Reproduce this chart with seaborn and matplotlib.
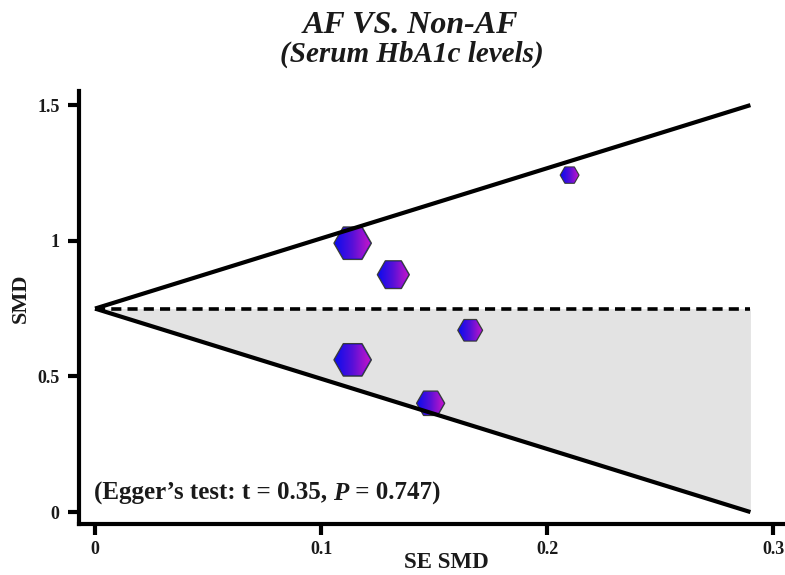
import numpy as np
import pandas as pd
import matplotlib
matplotlib.use("Agg")
import matplotlib.pyplot as plt
import matplotlib.transforms as mtransforms
import seaborn as sns
from matplotlib.patches import RegularPolygon
from matplotlib.colors import LinearSegmentedColormap
from matplotlib.offsetbox import TextArea, HPacker, AnchoredOffsetbox

# ------------------------ data ------------------------
se_smd = [0.210, 0.114, 0.132, 0.166, 0.114, 0.1485]
smd = [1.242, 0.991, 0.875, 0.670, 0.561, 0.401]

pooled_smd = 0.75
se_max = 0.29
funnel_upper = 1.50
funnel_lower = 0.0

egger_t = 0.35
egger_p = 0.747

title = "AF VS. Non-AF"
subtitle = "(Serum HbA1c levels)"

# ------------------------ style ------------------------
sns.set_style("ticks")
plt.rcParams["font.family"] = ["Liberation Serif", "DejaVu Serif"]
plt.rcParams["font.weight"] = "bold"
ink = "#1a1a1a"

fig = plt.figure(figsize=(7.85, 5.75), dpi=100)
ax = fig.add_axes([79 / 785, 51 / 575, 706 / 785, 433 / 575])

# funnel: shaded lower half, solid limits, dashed pooled estimate
ax.fill_between([0, se_max], [pooled_smd, pooled_smd], [pooled_smd, funnel_lower],
                color="#e3e3e3", lw=0, zorder=1)
ax.plot([0, se_max], [pooled_smd, funnel_upper], color="black", lw=3, zorder=5,
        solid_capstyle="butt")
ax.plot([0, se_max], [pooled_smd, funnel_lower], color="black", lw=3, zorder=5,
        solid_capstyle="butt")
ax.plot([0, se_max], [pooled_smd, pooled_smd], color="black", lw=2.6, zorder=5,
        ls=(0, (2.8, 1.7)))

# study points, area proportional to inverse variance
df = pd.DataFrame({"se": se_smd, "smd": smd})
df["w"] = 1 / df["se"] ** 2
sns.scatterplot(data=df, x="se", y="smd", size="w", sizes=(180, 725), marker="H",
                color="#1208e6", edgecolor="#3c3c3c", linewidth=1.0,
                legend=False, ax=ax, zorder=3)
pts = ax.collections[-1]
pts.set_edgecolor("#3c3c3c")

# blue -> magenta horizontal gradient inside each hexagon
cmap = LinearSegmentedColormap.from_list("hexfill", ["#0c0ced", "#5a10d8", "#c816c8"])
grad = np.linspace(0, 1, 128).reshape(1, -1)
for (x, y), s in zip(pts.get_offsets(), pts.get_sizes()):
    r = np.sqrt(s) / 2 / 72 * 0.94
    trans = fig.dpi_scale_trans + mtransforms.ScaledTranslation(x, y, ax.transData)
    hexagon = RegularPolygon((0, 0), 6, radius=r, orientation=np.pi / 6, transform=trans)
    im = ax.imshow(grad, cmap=cmap, extent=(-r, r, -r, r), transform=trans,
                   aspect="auto", interpolation="bilinear", zorder=3.5)
    im.set_clip_path(hexagon)

# ------------------------ axes ------------------------
ax.set_xlim(-0.0071, (785 - 95) / 2260)
ax.set_ylim(-0.044, 1.552)
ax.set_xticks([0, 0.1, 0.2, 0.3], labels=["0", "0.1", "0.2", "0.3"])
ax.set_yticks([0, 0.5, 1, 1.5], labels=["0", "0.5", "1", "1.5"])
ax.set_xlabel("")
ax.set_ylabel("")
sns.despine(ax=ax)
for side in ["left", "bottom"]:
    ax.spines[side].set_linewidth(3)
    ax.spines[side].set_color("black")
ax.tick_params(axis="both", width=3, length=8, labelsize=13, colors="black",
               labelcolor=ink)
ax.tick_params(axis="x", pad=4)
ax.tick_params(axis="y", pad=6)

fig.text(446 / 785, 1 - 563 / 575, "SE SMD", ha="center", va="center",
         fontsize=16.5, fontweight="bold", color=ink)
fig.text(21 / 785, 1 - 298 / 575, "SMD", ha="center", va="center", rotation=90,
         fontsize=16, fontweight="bold", color=ink)

fig.text(410 / 785, 1 - 33 / 575, title, ha="center", va="baseline",
         fontsize=23, fontweight="bold", fontstyle="italic", color=ink)
fig.text(412 / 785, 1 - 62 / 575, subtitle, ha="center", va="baseline",
         fontsize=21, fontweight="bold", fontstyle="italic", color=ink)

# Egger's test annotation with italic P
tp = dict(fontsize=18, fontweight="bold", color=ink)
box = HPacker(children=[
    TextArea(f"(Egger\u2019s test: t = {egger_t:.2f}, ", textprops=tp),
    TextArea("P", textprops=dict(tp, fontstyle="italic")),
    TextArea(f" = {egger_p:.3f})", textprops=tp),
], pad=0, sep=0, align="baseline")
anchored = AnchoredOffsetbox(loc="lower left", child=box, frameon=False,
                             bbox_to_anchor=(94 / 785, 1 - 505 / 575),
                             bbox_transform=fig.transFigure, borderpad=0, pad=0)
ax.add_artist(anchored)

fig.savefig("out.png", dpi=100)
